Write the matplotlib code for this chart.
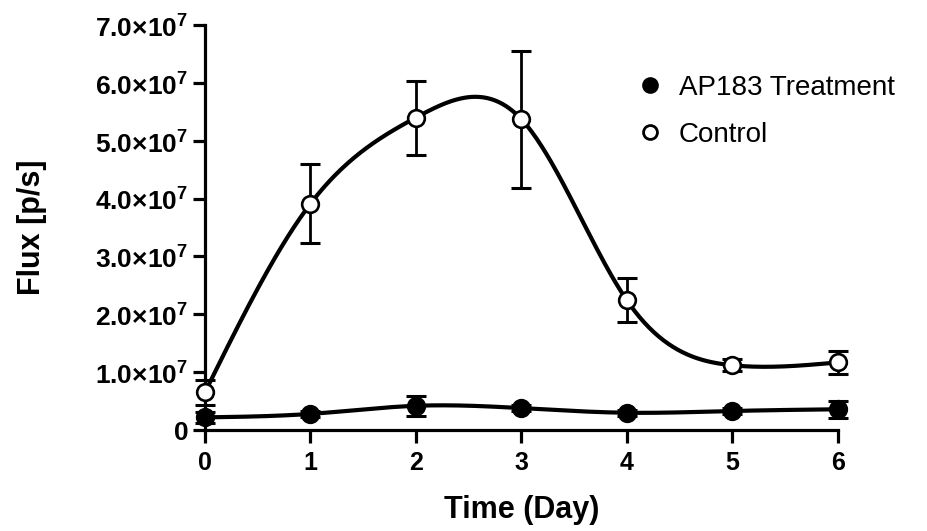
import numpy as np
import matplotlib
matplotlib.use("Agg")
import matplotlib.pyplot as plt
from matplotlib.lines import Line2D


# values (flux in p/s)
days = [0, 1, 2, 3, 4, 5, 6]
control_mean = [0.65e7, 3.91e7, 5.40e7, 5.37e7, 2.24e7, 1.12e7, 1.17e7]
control_err = [0.22e7, 0.68e7, 0.64e7, 1.18e7, 0.38e7, 0.10e7, 0.20e7]
treatment_mean = [0.22e7, 0.28e7, 0.42e7, 0.38e7, 0.30e7, 0.33e7, 0.36e7]
treatment_err = [0.10e7, 0.05e7, 0.17e7, 0.05e7, 0.05e7, 0.05e7, 0.15e7]

y_ticks = [0, 1e7, 2e7, 3e7, 4e7, 5e7, 6e7, 7e7]
y_tick_labels = ["0", "1.0×10$^{\\mathbf{7}}$", "2.0×10$^{\\mathbf{7}}$",
                 "3.0×10$^{\\mathbf{7}}$", "4.0×10$^{\\mathbf{7}}$",
                 "5.0×10$^{\\mathbf{7}}$", "6.0×10$^{\\mathbf{7}}$",
                 "7.0×10$^{\\mathbf{7}}$"]
series_names = ["AP183 Treatment", "Control"]


def natural_spline(x, y, n=400):
    # natural cubic spline, like the smooth curve in the original software
    x = np.asarray(x, dtype=float)
    y = np.asarray(y, dtype=float)
    k = len(x)
    h = np.diff(x)
    A = np.zeros((k, k))
    b = np.zeros(k)
    A[0, 0] = 1.0
    A[-1, -1] = 1.0
    for i in range(1, k - 1):
        A[i, i - 1] = h[i - 1]
        A[i, i] = 2 * (h[i - 1] + h[i])
        A[i, i + 1] = h[i]
        b[i] = 3 * ((y[i + 1] - y[i]) / h[i] - (y[i] - y[i - 1]) / h[i - 1])
    c = np.linalg.solve(A, b)
    xs = np.linspace(x[0], x[-1], n)
    ys = np.empty_like(xs)
    for j, xv in enumerate(xs):
        i = min(np.searchsorted(x, xv, side="right") - 1, k - 2)
        bi = (y[i + 1] - y[i]) / h[i] - h[i] * (2 * c[i] + c[i + 1]) / 3
        di = (c[i + 1] - c[i]) / (3 * h[i])
        t = xv - x[i]
        ys[j] = y[i] + bi * t + c[i] * t ** 2 + di * t ** 3
    return xs, ys


plt.rcParams["font.family"] = ["Liberation Sans", "DejaVu Sans"]
plt.rcParams["mathtext.fontset"] = "custom"
plt.rcParams["mathtext.rm"] = "Liberation Sans"
plt.rcParams["mathtext.bf"] = "Liberation Sans:bold"

fig = plt.figure(figsize=(9.27, 5.31), dpi=100)
ax = fig.add_axes([0.221, 0.190, 0.683, 0.763])

lw = 3.0
for mean, err, face in [(control_mean, control_err, "white"),
                        (treatment_mean, treatment_err, "black")]:
    xs, ys = natural_spline(days, mean)
    ax.plot(xs, ys, color="black", lw=lw, solid_capstyle="round", clip_on=False, zorder=2)
    ax.errorbar(days, mean, yerr=err, fmt="none", ecolor="black", elinewidth=2.0,
                capsize=7, capthick=2.2, clip_on=False, zorder=3)
    ax.plot(days, mean, "o", ms=12, mfc=face, mec="black", mew=1.9,
            linestyle="none", clip_on=False, zorder=4)

ax.set_xlim(0, 6)
ax.set_ylim(0, 7e7)
ax.set_xticks(days)
ax.set_xticklabels([str(d) for d in days], fontweight="bold", fontsize=18)
ax.set_yticks(y_ticks)
ax.set_yticklabels(y_tick_labels, fontweight="bold", fontsize=19)

for side in ["top", "right"]:
    ax.spines[side].set_visible(False)
for side in ["left", "bottom"]:
    ax.spines[side].set_linewidth(2.3)
ax.tick_params(axis="both", direction="out", length=9, width=2.3, pad=3)
ax.tick_params(axis="x", pad=6)

ax.set_xlabel("Time (Day)", fontsize=22, fontweight="bold")
ax.set_ylabel("Flux [p/s]", fontsize=22, fontweight="bold")
ax.xaxis.set_label_coords(0.5, -0.198)
ax.xaxis.label.set_va("center")
ax.yaxis.set_label_coords(-0.273, 0.5)
ax.yaxis.label.set_va("center")

handles = [
    Line2D([], [], marker="o", linestyle="none", ms=10, mfc="black", mec="black", mew=2),
    Line2D([], [], marker="o", linestyle="none", ms=10, mfc="white", mec="black", mew=2),
]
fig.legend(handles, series_names, loc="upper left", bbox_to_anchor=(0.686, 0.859),
           frameon=False, fontsize=20, handletextpad=0.55, labelspacing=0.75,
           handlelength=1.0, borderaxespad=0, borderpad=0)

fig.savefig("out.png", dpi=100, facecolor="white")
